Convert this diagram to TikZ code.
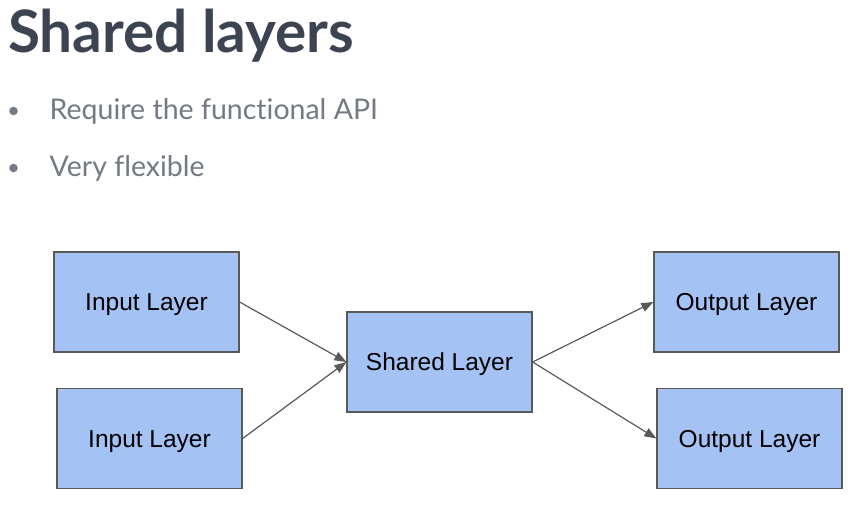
\documentclass[tikz,border=0pt]{standalone}
\usepackage{fontspec}
\setmainfont{Liberation Sans}
\newfontfamily\latofont[Ligatures=NoCommon]{Lato}
\usetikzlibrary{arrows.meta}
\definecolor{titlec}{HTML}{3D4451}
\definecolor{bulletc}{HTML}{737A84}
\definecolor{boxfill}{HTML}{A4C2F4}
\definecolor{boxline}{HTML}{595959}
\definecolor{arrowc}{HTML}{595959}
\tikzset{
  layerbox/.style={draw=boxline, line width=1.2pt, fill=boxfill, minimum width=185pt, minimum height=100pt, inner sep=0pt, text height=17.5pt, text depth=0pt, font=\fontsize{24.5}{28}\selectfont},
  conn/.style={draw=arrowc, line width=1.2pt, -{Triangle[length=12pt,width=9pt]}},
  bullettext/.style={anchor=base west, inner sep=0pt, text=bulletc, font=\latofont\fontsize{28.5}{32}\selectfont},
  bulletdot/.style={circle, fill=bulletc, minimum size=8.5pt, inner sep=0pt}
}
\begin{document}
\begin{tikzpicture}[x=1pt,y=-1pt]
\useasboundingbox (0,0) rectangle (851,507);
\node[anchor=base west, inner sep=0pt, text=titlec, font=\latofont\bfseries\fontsize{58.5}{64}\selectfont] (title) at (8,52) {Shared layers};
\node[bulletdot] (b1) at (13.5,111) {};
\node[bullettext] (t1) at (49.5,119) {Require the functional API};
\node[bulletdot] (b2) at (13.5,168) {};
\node[bullettext] (t2) at (49.5,176) {Very flexible};
\node[layerbox] (in1) at (146.5,302) {Input Layer};
\node[layerbox] (in2) at (149.5,438.5) {Input Layer};
\node[layerbox] (sh) at (439.5,362) {Shared Layer};
\node[layerbox] (out1) at (746.5,302) {Output Layer};
\node[layerbox] (out2) at (749.5,438.5) {Output Layer};
\draw[conn] (in1.east) -- (sh.west);
\draw[conn] (in2.east) -- (sh.west);
\draw[conn] (sh.east) -- (out1.west);
\draw[conn] (sh.east) -- (out2.west);
\end{tikzpicture}
\end{document}
